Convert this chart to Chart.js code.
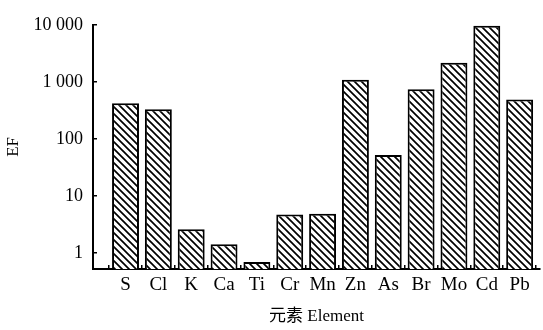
<!DOCTYPE html>
<html>
<head>
<meta charset="utf-8">
<script src="https://cdn.jsdelivr.net/npm/chart.js@4/dist/chart.umd.min.js"></script>
<style>
  html, body { margin: 0; padding: 0; background: #fff; }
  #wrap { width: 543px; height: 330px; }
</style>
</head>
<body>
<div id="wrap"><canvas id="ef-chart" width="543" height="330"></canvas></div>
<script>
// 元素与富集因子 EF（对数坐标）
const elements = ['S', 'Cl', 'K', 'Ca', 'Ti', 'Cr', 'Mn', 'Zn', 'As', 'Br', 'Mo', 'Cd', 'Pb'];
const efValues = [420, 330, 2.6, 1.42, 0.69, 4.7, 4.85, 1090, 52, 740, 2150, 9600, 490];
const yTicks = [1, 10, 100, 1000, 10000];
const yTickLabels = ['1', '10', '100', '1 000', '10 000'];

// 斜线填充
function hatch() {
    const c = document.createElement('canvas');
    c.width = 7; c.height = 7;
    const g = c.getContext('2d');
    g.fillStyle = '#fff';
    g.fillRect(0, 0, 7, 7);
    g.strokeStyle = '#000';
    g.lineWidth = 1.7;
    g.beginPath();
    for (const d of [-7, 0, 7]) {
        g.moveTo(d - 1, -1);
        g.lineTo(d + 8, 8);
    }
    g.stroke();
    return g.createPattern(c, 'repeat');
}

const serif = '"Liberation Serif", "Noto Sans CJK SC", serif';
const ctx = document.getElementById('ef-chart').getContext('2d');
new Chart(ctx, {
    type: 'bar',
    data: {
        datasets: [{
            data: efValues.map((v, i) => ({ x: i, y: v })),
            backgroundColor: hatch(),
            borderColor: '#000',
            borderWidth: 2,
            categoryPercentage: 1,
            barPercentage: 0.82,
        }],
    },
    options: {
        responsive: false,
        animation: false,
        layout: { padding: { top: 18, right: 3, left: 0, bottom: 0 } },
        plugins: { legend: { display: false }, tooltip: { enabled: false } },
        scales: {
            x: {
                type: 'linear',
                offset: false,
                min: -0.99,
                max: 12.62,
                afterBuildTicks: s => { s.ticks = elements.map((e, i) => ({ value: i })); },
                afterFit: s => { s.height = 61; },
                ticks: {
                    autoSkip: false,
                    maxRotation: 0,
                    padding: 9,
                    color: '#000',
                    font: { family: serif, size: 19 },
                    callback: v => elements[v] ?? '',
                },
                grid: { drawOnChartArea: false, tickLength: -4, color: '#000', lineWidth: 1.5 },
                border: { color: '#000', width: 2 },
                title: {
                    display: true,
                    text: '元素 Element',
                    color: '#000',
                    font: { family: serif, size: 17 },
                    padding: { top: 0, bottom: 3 },
                },
            },
            y: {
                type: 'logarithmic',
                min: 0.52,
                max: 10000,
                afterBuildTicks: s => { s.ticks = yTicks.map(v => ({ value: v })); },
                afterFit: s => { s.width = 93; },
                ticks: {
                    padding: 14,
                    color: '#000',
                    font: { family: serif, size: 18 },
                    callback: v => yTickLabels[yTicks.indexOf(v)] ?? '',
                },
                grid: { drawOnChartArea: false, tickLength: -4, color: '#000', lineWidth: 1.5 },
                border: { color: '#000', width: 2 },
                title: {
                    display: true,
                    text: 'EF',
                    color: '#000',
                    font: { family: serif, size: 17 },
                    padding: { top: 3, bottom: 0 },
                },
            },
        },
    },
});
</script>
</body>
</html>
